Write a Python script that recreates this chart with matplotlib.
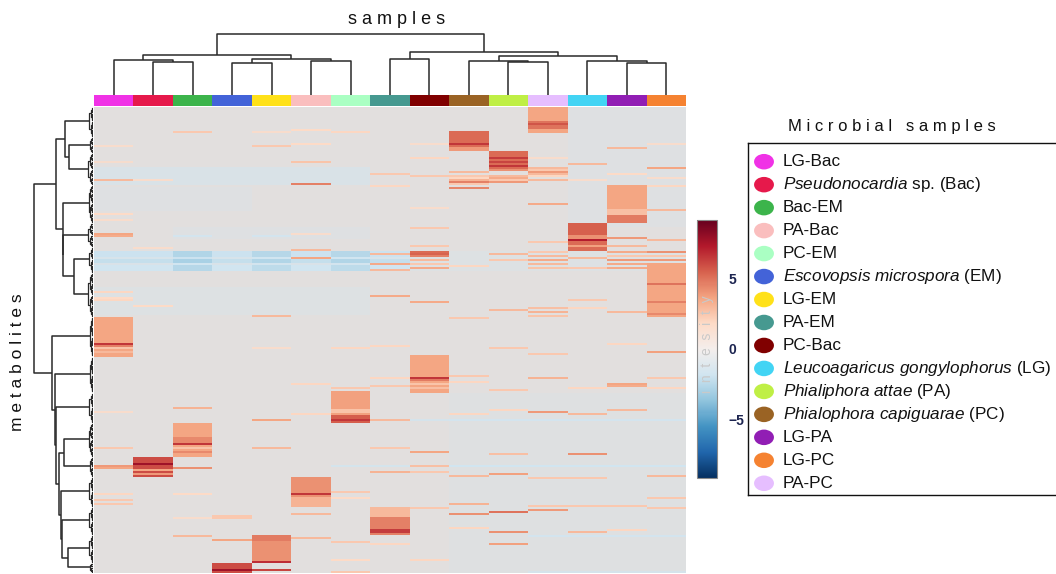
import numpy as np
import matplotlib
matplotlib.use("Agg")
import matplotlib.pyplot as plt
from matplotlib.colors import LinearSegmentedColormap, ListedColormap, Normalize
from matplotlib.cm import ScalarMappable
from matplotlib.path import Path
from matplotlib.transforms import Affine2D

plt.rcParams['font.family'] = ['Liberation Sans', 'DejaVu Sans']
plt.rcParams['mathtext.fontset'] = 'custom'
plt.rcParams['mathtext.rm'] = 'Liberation Sans'
plt.rcParams['mathtext.it'] = 'Liberation Sans:italic'

# ---------------- data ----------------
# heatmap column order (left to right)
sample_ids = ["LG-Bac", "Bac", "Bac-EM", "EM", "LG-EM", "PA-Bac", "PC-EM", "PA-EM",
              "PC-Bac", "PC", "PA", "PA-PC", "LG", "LG-PA", "LG-PC"]
sample_colors = ["#F032E6", "#E6194B", "#3CB44B", "#4363D8", "#FFE119", "#FABEBE", "#AAFFC3",
                 "#469990", "#800000", "#9A6324", "#BFEF45", "#E6BEFF", "#42D4F4", "#911EB4", "#F58231"]

legend_ids = ["LG-Bac", "Bac", "Bac-EM", "PA-Bac", "PC-EM", "EM", "LG-EM", "PA-EM", "PC-Bac",
              "LG", "PA", "PC", "LG-PA", "LG-PC", "PA-PC"]
legend_labels = ["LG-Bac",
                 r"$\mathit{Pseudonocardia}$ sp. (Bac)",
                 "Bac-EM", "PA-Bac", "PC-EM",
                 r"$\mathit{Escovopsis\ microspora}$ (EM)",
                 "LG-EM", "PA-EM", "PC-Bac",
                 r"$\mathit{Leucoagaricus\ gongylophorus}$ (LG)",
                 r"$\mathit{Phialiphora\ attae}$ (PA)",
                 r"$\mathit{Phialophora\ capiguarae}$ (PC)",
                 "LG-PA", "LG-PC", "PA-PC"]

n_metabolites = 233
# contiguous metabolite clusters (rows, top to bottom) and their internal merge height
block_sizes = [15, 8, 16, 19, 12, 13, 22, 20, 18, 15, 17, 10, 15, 14, 14, 5]
block_inner = [4.0, 3.0, 5.0, 4.5, 5.0, 4.0, 5.0, 3.0, 3.5, 4.0, 4.5, 3.0, 4.0, 4.0, 4.0, 3.0]

# row dendrogram over clusters: (height, left, right)
row_tree = (58.7,
            (37.0,
             (28.0, 0, (23.7, 1, 2)),
             (30.3, 3, (29.7, 4, (18.7, 5, 6)))),
            (40.7,
             7,
             (38.0, 8, (37.0, 9, (34.0, (29.0, 10, 11),
                                  (32.3, 12, (31.3, 13, (25.3, 14, 15))))))))

# column dendrogram over samples: (height, left, right)
col_tree = (60.7,
            (40.0, (34.7, 0, (33.3, 1, 2)), (35.7, (32.3, 3, 4), (34.3, 5, 6))),
            (42.7, (35.7, 7, 8),
             (39.0, (34.3, 9, (33.3, 10, 11)), (34.3, 12, (32.3, 13, 14)))))

# additive background tints: (row0, row1, col0, col1, value)
tints = [
    (30, 39, 0, 7, -0.9), (40, 52, 0, 4, -0.4), (60, 66, 2, 7, -0.4),
    (72, 75, 0, 8, -2.0), (75, 76, 0, 8, -1.2), (76, 78, 0, 8, -2.2),
    (78, 79, 0, 8, -1.0), (79, 82, 0, 8, -1.8), (72, 82, 8, 15, -0.5),
    (72, 82, 2, 3, -0.8), (72, 82, 4, 5, -0.6), (72, 82, 6, 7, -0.6),
    (0, 60, 12, 15, -0.4), (90, 104, 0, 7, -0.5), (143, 233, 9, 15, -0.35),
    (156, 157, 7, 15, -1.3), (179, 180, 6, 15, -1.5), (214, 215, 11, 15, -1.3),
    (232, 233, 11, 15, -1.0),
]

# enriched blocks: (col, row0, row1, value)
blocks = [
    (11, 0, 13, 3.6), (11, 7, 11, 5.0), (11, 8, 9, 5.8),
    (9, 12, 22, 5.2), (9, 18, 19, 6.6), (9, 20, 22, 4.0),
    (10, 22, 32, 5.2), (10, 25, 26, 6.4), (10, 27, 28, 6.2), (10, 29, 30, 6.6), (10, 31, 32, 4.2),
    (13, 39, 51, 3.6), (13, 51, 54, 2.8), (13, 54, 58, 4.8),
    (12, 58, 64, 5.5), (12, 64, 66, 4.2), (12, 66, 67, 7.2), (12, 67, 72, 5.2), (12, 69, 70, 3.8),
    (14, 78, 105, 3.6), (14, 88, 89, 5.0), (14, 97, 98, 4.6), (14, 103, 104, 4.4),
    (0, 105, 125, 3.6), (0, 118, 119, 6.6), (0, 119, 120, 4.6), (0, 120, 121, 2.6), (0, 122, 123, 3.0),
    (8, 124, 143, 3.6), (8, 135, 136, 6.6), (8, 136, 137, 4.8), (8, 138, 139, 2.6), (8, 140, 141, 2.8),
    (6, 142, 158, 3.8), (6, 151, 153, 2.6), (6, 154, 158, 5.6), (6, 156, 157, 6.6),
    (2, 158, 175, 3.6), (2, 165, 168, 4.4), (2, 168, 169, 6.6), (2, 170, 171, 2.6), (2, 172, 173, 4.4),
    (1, 175, 185, 6.0), (1, 178, 179, 7.8), (1, 181, 182, 3.6), (1, 183, 184, 4.0),
    (5, 185, 200, 4.2), (5, 193, 194, 6.6), (5, 195, 200, 3.2),
    (7, 200, 214, 4.6), (7, 200, 205, 3.0), (7, 211, 213, 6.4),
    (4, 214, 228, 4.2), (4, 214, 217, 4.8), (4, 227, 228, 6.8), (4, 231, 232, 6.2),
    (3, 228, 233, 6.0), (3, 231, 232, 7.8),
]

# single-metabolite lines: (row, col, value)
lines = [
    (12, 2, 2.5), (11, 5, 1.8), (12, 4, 1.5), (12, 6, 2.0),
    (19, 0, 1.5), (19, 4, 2.5), (18, 5, 1.8), (27, 5, 2.6), (27, 0, 1.3),
    (36, 0, 3.0), (36, 1, 1.5), (38, 5, 4.6), (53, 0, 1.8), (56, 0, 1.5),
    (63, 0, 3.6), (64, 0, 3.4), (63, 5, 1.5), (64, 4, -1.6), (64, 2, -1.6),
    (70, 1, 1.5), (71, 5, 3.0), (75, 5, 3.6),
    (92, 0, 2.0), (95, 0, 1.8), (96, 0, 2.0), (99, 1, 1.8), (104, 4, 3.0),
    (32, 9, 3.0), (34, 9, 2.5), (35, 9, 2.0), (36, 9, 3.2), (37, 9, 4.6), (38, 9, 2.5), (40, 9, 4.5),
    (34, 10, 3.0), (35, 10, 3.5), (36, 10, 2.5), (37, 10, 4.0),
    (30, 11, 3.0), (31, 11, 2.5), (32, 11, 4.0), (33, 11, 3.0), (34, 11, 2.0), (25, 11, 1.5),
    (48, 11, 3.5), (36, 11, 3.0),
    (28, 12, 3.0), (36, 12, 1.5),
    (20, 13, 3.0), (33, 13, 1.8), (65, 13, 4.0), (69, 13, 3.0), (72, 13, 3.5), (74, 13, 2.5),
    (76, 13, 4.0), (78, 13, 3.5), (80, 13, 3.5),
    (18, 14, 1.5), (30, 14, 3.6), (35, 14, 1.5), (39, 14, 2.0), (51, 14, 3.0), (66, 14, 3.0),
    (72, 14, 4.2), (74, 14, 2.5), (76, 14, 4.0),
    (72, 8, 5.2), (73, 8, 5.4), (74, 8, 4.6), (76, 8, 3.0), (78, 8, 2.5), (80, 8, 3.5),
    (18, 8, 1.5), (25, 8, 2.0), (34, 8, 2.5), (50, 8, 1.5), (60, 8, 2.5), (69, 8, 2.5),
    (73, 7, 3.0), (78, 7, 3.5), (33, 7, 2.5), (39, 7, 2.0), (81, 7, 3.0),
    (94, 7, 3.5), (97, 8, 3.5), (101, 10, 3.0), (100, 11, 2.8), (102, 11, 3.2), (104, 11, 2.6),
    (102, 13, 3.0), (100, 12, 2.0), (96, 12, 2.5), (105, 9, 2.5),
    (67, 11, 2.5), (72, 11, 2.5), (74, 11, 3.0), (76, 11, 3.5), (78, 11, 3.0), (80, 11, 2.6),
    (73, 10, 3.0), (76, 10, 2.5), (79, 9, 2.0), (75, 12, 3.0), (80, 12, 2.5),
    (152, 0, 1.5), (170, 0, 2.5), (179, 0, 4.0), (180, 0, 3.6), (193, 0, 2.0), (196, 0, 2.5), (198, 0, 2.5),
    (150, 2, 3.2), (180, 2, 4.2), (193, 2, 1.8), (205, 2, 1.5), (214, 2, 3.0),
    (120, 4, 1.5), (156, 4, 3.6), (170, 4, 3.0),
    (138, 5, 2.0), (153, 5, 2.0), (203, 5, 3.0), (215, 5, 3.0),
    (204, 3, 2.5), (205, 3, 2.5), (216, 3, 3.6),
    (120, 6, 2.0), (140, 6, 2.5), (192, 6, 2.5), (195, 6, 1.8), (217, 6, 2.5), (226, 6, 1.8), (232, 6, 2.5),
    (119, 7, 2.0), (135, 7, 2.0), (139, 7, 2.5), (156, 7, 3.0), (170, 7, 2.5), (182, 7, 3.2), (218, 7, 2.0),
    (172, 8, 3.6), (179, 8, 2.8), (182, 8, 2.5), (200, 8, 2.5), (226, 8, 2.0),
    (134, 9, 2.5), (137, 9, 2.0), (153, 9, 2.0), (184, 9, 3.0), (198, 9, 3.2), (203, 9, 4.2), (210, 9, 2.0),
    (120, 10, 2.5), (141, 10, 2.5), (151, 10, 2.0), (173, 10, 2.8), (183, 10, 3.8), (202, 10, 5.0),
    (212, 10, 4.2), (218, 10, 3.8),
    (123, 11, 2.5), (135, 11, 3.2), (152, 11, 4.0), (185, 11, 2.5), (199, 11, 2.5), (201, 11, 4.0),
    (140, 12, 2.0), (153, 12, 3.0), (173, 12, 4.2), (185, 12, 2.5), (199, 12, 2.5), (212, 12, 3.0),
    (118, 13, 2.0), (138, 13, 3.6), (139, 13, 3.4), (151, 13, 3.0), (199, 13, 2.5), (211, 13, 2.0),
    (122, 14, 3.8), (135, 14, 2.5), (140, 14, 2.0), (184, 14, 3.0), (195, 14, 2.5), (200, 14, 2.5),
]

colorbar_ticks = [5, 0, -5]
vmin, vmax = -9.2, 9.2

# ---------------- build matrix ----------------
n_cols = len(sample_ids)
M = np.zeros((n_metabolites, n_cols))
for r0, r1, c0, c1, v in tints:
    M[r0:r1, c0:c1] += v
for c, r0, r1, v in blocks:
    M[r0:r1, c] = v
for r, c, v in lines:
    M[r, c] = v

anchors = ['#053061', '#2166AC', '#4393C3', '#92C5DE', '#D1E5F0', '#E1DFDE',
           '#FDDBC7', '#F4A582', '#D6604D', '#B2182B', '#67001F']
cmap = LinearSegmentedColormap.from_list('rdbu_grey', anchors)
bar_anchors = anchors[:5] + ['#F4EEEC'] + anchors[6:]
cmap_bar = LinearSegmentedColormap.from_list('rdbu_bar', bar_anchors)

# ---------------- figure ----------------
W, H = 1056, 574
fig = plt.figure(figsize=(W / 100, H / 100), dpi=100)


def ax_px(x0, y0, x1, y1):
    return fig.add_axes([x0 / W, 1 - y1 / H, (x1 - x0) / W, (y1 - y0) / H])


LC = '#2a2a2a'
LW = 1.1

# heatmap
hm = ax_px(94, 107, 686, 573)
hm.pcolormesh(np.arange(n_cols + 1), np.arange(n_metabolites + 1), M,
              cmap=cmap, vmin=vmin, vmax=vmax, shading='flat')
hm.set_xlim(0, n_cols)
hm.set_ylim(n_metabolites, 0)
hm.axis('off')

# sample colour strip
st = ax_px(94, 95, 686, 106)
st.pcolormesh(np.arange(n_cols + 1), [0, 1], [np.arange(n_cols)],
              cmap=ListedColormap(sample_colors), vmin=-0.5, vmax=n_cols - 0.5)
st.set_xlim(0, n_cols)
st.axis('off')

# column dendrogram
cd = ax_px(94, 30, 686, 95)


def draw_col(node):
    if isinstance(node, int):
        return node + 0.5, 0.0
    h, a, b = node
    ca, ha = draw_col(a)
    cb, hb = draw_col(b)
    cd.plot([ca, ca, cb, cb], [ha, h, h, hb], color=LC, lw=LW, solid_capstyle='butt')
    return (ca + cb) / 2, h


draw_col(col_tree)
cd.set_xlim(0, n_cols)
cd.set_ylim(0, 65)
cd.axis('off')

# row dendrogram
rd = ax_px(30, 107, 93, 573)


def draw_block(r0, r1, h):
    n = r1 - r0
    if n == 1:
        return r0 + 0.5, 0.0
    mid = r0 + n // 2
    ca, ha = draw_block(r0, mid, h * 0.6)
    cb, hb = draw_block(mid, r1, h * 0.6)
    rd.plot([ha, h, h, hb], [ca, ca, cb, cb], color=LC, lw=0.9, solid_capstyle='butt')
    return (ca + cb) / 2, h


starts = np.concatenate([[0], np.cumsum(block_sizes)[:-1]])
leaf_pos = [draw_block(s, s + n, hin) for s, n, hin in zip(starts, block_sizes, block_inner)]


def draw_row(node):
    if isinstance(node, int):
        return leaf_pos[node]
    h, a, b = node
    ca, ha = draw_row(a)
    cb, hb = draw_row(b)
    rd.plot([ha, h, h, hb], [ca, ca, cb, cb], color=LC, lw=LW, solid_capstyle='butt')
    return (ca + cb) / 2, h


draw_row(row_tree)
rd.set_xlim(63, 0)
rd.set_ylim(n_metabolites, 0)
rd.axis('off')

# colour bar
cb_ax = ax_px(697, 220, 717, 478)
cbar = fig.colorbar(ScalarMappable(norm=Normalize(vmin, vmax), cmap=cmap_bar), cax=cb_ax)
cbar.set_ticks(colorbar_ticks)
cbar.ax.tick_params(length=0, pad=8, labelsize=10, labelcolor='#1c2450')
for t in cbar.ax.get_yticklabels():
    t.set_fontweight('bold')
cbar.outline.set_edgecolor('#8a8a8a')
cbar.outline.set_linewidth(0.8)
cb_ax.text(0.5, 0.52, "i  n  t  e  s  i  t  y", rotation=90, ha='center', va='center',
           transform=cb_ax.transAxes, fontsize=10, color='#c9c9c9')

# axis titles
fig.text(397 / W, 1 - 20 / H, "s a m p l e s", ha='center', va='center', fontsize=13, color='#111111')
fig.text(18 / W, 1 - 362 / H, "m e t a b o l i t e s", ha='center', va='center',
         rotation=90, fontsize=12.5, color='#111111')
fig.text(892 / W, 1 - 127 / H, "M i c r o b i a l   s a m p l e s", ha='center', va='center',
         fontsize=12, color='#111111')

# legend box
lg = ax_px(748, 143, 1056, 495)
lg.set_xlim(748, 1056)
lg.set_ylim(495, 143)
lg.set_xticks([])
lg.set_yticks([])
for s in ['left', 'top', 'bottom']:
    lg.spines[s].set_color('#111111')
    lg.spines[s].set_linewidth(1.0)
lg.spines['right'].set_visible(False)
ellipse = Path.unit_circle().transformed(Affine2D().scale(1.0, 0.78))
color_of = dict(zip(sample_ids, sample_colors))
for i, (sid, lab) in enumerate(zip(legend_ids, legend_labels)):
    yy = 161.7 + 22.97 * i
    lg.scatter([764], [yy], s=205, marker=ellipse, color=color_of[sid], edgecolors='none')
    lg.text(783, yy, lab, ha='left', va='center', fontsize=12.3, color='#111111')

fig.savefig("out.png", dpi=100)
